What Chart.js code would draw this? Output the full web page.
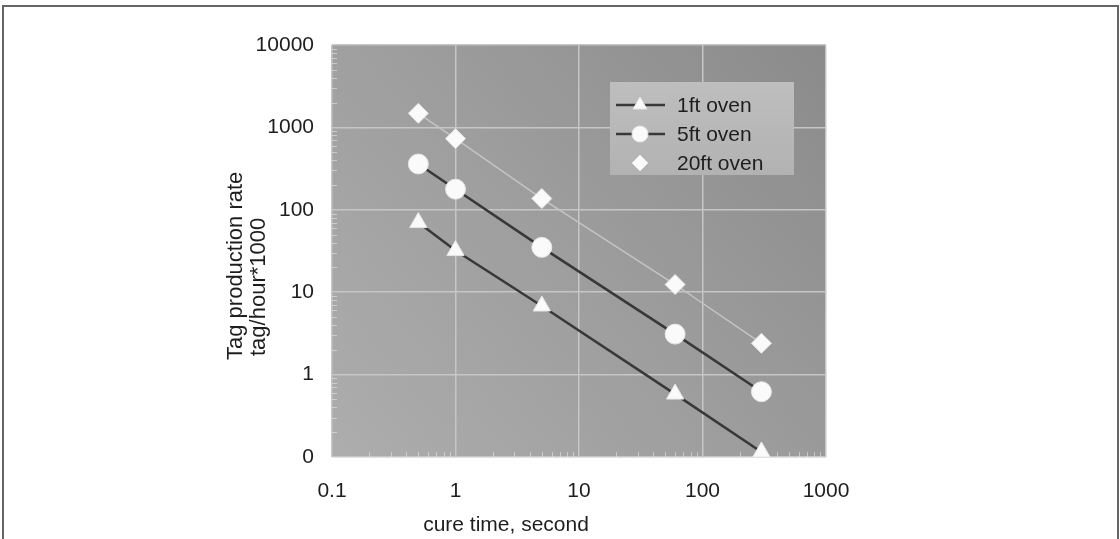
<!DOCTYPE html>
<html>
<head>
<meta charset="utf-8">
<script src="https://cdn.jsdelivr.net/npm/chart.js@4/dist/chart.umd.min.js"></script>
<style>
  html, body { margin: 0; padding: 0; background: #fff; overflow: hidden; }
  #wrap { position: relative; width: 1120px; height: 539px; }
  #frame { position: absolute; left: 2px; top: 5px; width: 1113px; height: 600px; border: 2px solid #666; }
  canvas { position: absolute; left: 0; top: 0; }
</style>
</head>
<body>
<div id="wrap">
  <div id="frame"></div>
  <canvas id="chart" width="1120" height="539"></canvas>
</div>
<script>
// cure time, second
const cureTimes = [0.5, 1, 5, 60, 300];
// tag production rate, tag/hour*1000
const oven1ft = [70, 32, 6.8, 0.58, 0.115];
const oven5ft = [360, 178, 35, 3.1, 0.62];
const oven20ft = [1480, 730, 137, 12.4, 2.4];

const seriesNames = ["1ft oven", "5ft oven", "20ft oven"];
const xTicks = [0.1, 1, 10, 100, 1000];
const yTicks = [0.1, 1, 10, 100, 1000, 10000];

const FONT = "'Liberation Sans', Arial, sans-serif";

function toPoints(values) {
  return cureTimes.map((t, i) => ({ x: t, y: values[i] }));
}

// grey gradient behind the plot
const plotBackground = {
  id: "plotBackground",
  beforeDraw(chart) {
    const { ctx, chartArea: a } = chart;
    const g = ctx.createLinearGradient(a.left, a.bottom, a.right, a.top);
    g.addColorStop(0, "#adadad");
    g.addColorStop(0.5, "#9d9d9d");
    g.addColorStop(1, "#8b8b8b");
    ctx.save();
    ctx.fillStyle = g;
    ctx.fillRect(a.left, a.top, a.right - a.left, a.bottom - a.top);
    ctx.restore();
  },
  beforeDatasetsDraw(chart) {
    // faint minor ticks along left and bottom edges
    const { ctx, chartArea: a, scales } = chart;
    ctx.save();
    ctx.strokeStyle = "rgba(230,230,230,0.6)";
    ctx.lineWidth = 1;
    for (let d = 0.1; d < 10000; d *= 10) {
      for (let k = 2; k <= 9; k++) {
        const y = Math.round(scales.y.getPixelForValue(d * k)) + 0.5;
        ctx.beginPath();
        ctx.moveTo(a.left, y);
        ctx.lineTo(a.left + 5, y);
        ctx.stroke();
      }
    }
    for (let d = 0.1; d < 1000; d *= 10) {
      for (let k = 2; k <= 9; k++) {
        const x = Math.round(scales.x.getPixelForValue(d * k)) + 0.5;
        ctx.beginPath();
        ctx.moveTo(x, a.bottom);
        ctx.lineTo(x, a.bottom - 5);
        ctx.stroke();
      }
    }
    ctx.restore();
  }
};

// axis titles and legend box
const annotations = {
  id: "annotations",
  afterDraw(chart) {
    const { ctx } = chart;
    ctx.save();
    ctx.fillStyle = "#1e1e1e";
    ctx.font = "21px " + FONT;
    ctx.textBaseline = "middle";
    ctx.textAlign = "center";
    ctx.fillText("cure time, second", 506, 525);

    ctx.font = "22px " + FONT;
    ctx.save();
    ctx.translate(236, 360);
    ctx.rotate(-Math.PI / 2);
    ctx.textAlign = "left";
    ctx.fillText("Tag production rate", 0, 0);
    ctx.restore();
    ctx.save();
    ctx.translate(259, 356);
    ctx.rotate(-Math.PI / 2);
    ctx.textAlign = "left";
    ctx.fillText("tag/hour*1000", 0, 0);
    ctx.restore();

    // legend
    ctx.font = "21px " + FONT;
    const bx = 610, by = 82, bw = 184, bh = 93;
    const lg = ctx.createLinearGradient(bx, by, bx, by + bh);
    lg.addColorStop(0, "#bebebe");
    lg.addColorStop(1, "#b2b2b2");
    ctx.fillStyle = lg;
    ctx.fillRect(bx, by, bw, bh);
    chart.data.datasets.forEach((ds, i) => {
      const cy = 105 + i * 29;
      if (ds.borderWidth > 2) {
        ctx.strokeStyle = ds.borderColor;
        ctx.lineWidth = ds.borderWidth;
        ctx.beginPath();
        ctx.moveTo(616, cy);
        ctx.lineTo(665, cy);
        ctx.stroke();
      }
      ctx.fillStyle = ds.pointBackgroundColor;
      ctx.strokeStyle = ds.pointBorderColor;
      ctx.lineWidth = 1;
      Chart.helpers.drawPoint(ctx, {
        pointStyle: ds.pointStyle,
        radius: ds.pointRadius - 2,
        borderWidth: 1,
        rotation: 0
      }, 640, cy);
      ctx.fillStyle = "#1e1e1e";
      ctx.textAlign = "left";
      ctx.fillText(seriesNames[i], 677, cy + 1);
    });
    ctx.restore();
  }
};

const chart = new Chart(document.getElementById("chart"), {
  type: "line",
  data: {
    datasets: [
      {
        label: seriesNames[0],
        data: toPoints(oven1ft),
        borderColor: "#383838",
        borderWidth: 2.5,
        pointStyle: "triangle",
        pointRadius: 10,
        pointBackgroundColor: "#fafafa",
        pointBorderColor: "#e6e6e6",
        pointBorderWidth: 1
      },
      {
        label: seriesNames[1],
        data: toPoints(oven5ft),
        borderColor: "#383838",
        borderWidth: 2.5,
        pointStyle: "circle",
        pointRadius: 10,
        pointBackgroundColor: "#fafafa",
        pointBorderColor: "#e6e6e6",
        pointBorderWidth: 1
      },
      {
        label: seriesNames[2],
        data: toPoints(oven20ft),
        borderColor: "#c4c4c4",
        borderWidth: 1.5,
        pointStyle: "rectRot",
        pointRadius: 10,
        pointBackgroundColor: "#fafafa",
        pointBorderColor: "#e6e6e6",
        pointBorderWidth: 1
      }
    ]
  },
  options: {
    responsive: false,
    animation: false,
    layout: { padding: { left: 0, top: 45, right: 294, bottom: 0 } },
    plugins: {
      legend: { display: false },
      tooltip: { enabled: false }
    },
    scales: {
      x: {
        type: "logarithmic",
        min: 0.1,
        max: 1000,
        afterBuildTicks: (s) => { s.ticks = xTicks.map((v) => ({ value: v })); },
        afterFit: (s) => { s.height = 82; },
        border: { display: false },
        grid: { color: "#c6c6c6", lineWidth: 1.5, drawTicks: false },
        ticks: {
          color: "#1e1e1e",
          font: { family: FONT, size: 21 },
          padding: 22,
          maxRotation: 0,
          callback: (v) => String(v)
        }
      },
      y: {
        type: "logarithmic",
        min: 0.1,
        max: 10000,
        afterBuildTicks: (s) => { s.ticks = yTicks.map((v) => ({ value: v })); },
        afterFit: (s) => { s.width = 332; },
        border: { display: false },
        grid: { color: "#c6c6c6", lineWidth: 1.5, drawTicks: false },
        ticks: {
          color: "#1e1e1e",
          font: { family: FONT, size: 21 },
          padding: 18,
          callback: (v) => (v === 0.1 ? "0" : String(v))
        }
      }
    }
  },
  plugins: [plotBackground, annotations]
});
</script>
</body>
</html>
